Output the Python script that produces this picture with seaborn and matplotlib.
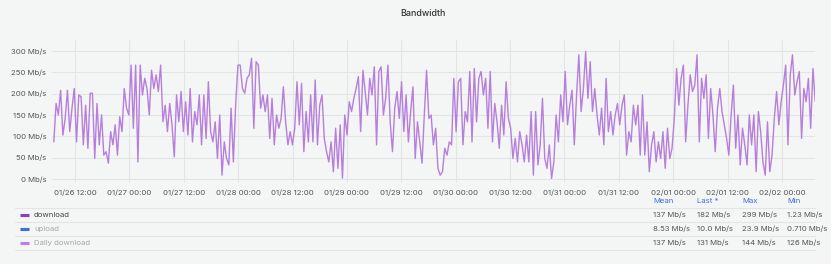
import matplotlib
matplotlib.use("Agg")
import matplotlib.pyplot as plt
import matplotlib.dates as mdates
from matplotlib.lines import Line2D
from matplotlib.ticker import FuncFormatter, MultipleLocator
import pandas as pd
import seaborn as sns

# ---- data (Mb/s), 30-minute-ish steps ----
seg_a = [87, 177, 150, 208, 103, 142, 208, 111, 166, 212, 87, 197, 193, 80, 173, 72, 201, 201, 48, 177,
         80, 150, 56, 64, 37, 111, 80, 127, 56, 146, 111, 212, 166, 150, 267, 119, 267, 40, 267, 197]
seg_b = [236, 212, 150, 255, 212, 244, 205, 267, 134, 173, 111, 177, 127, 52, 197, 134, 205, 111, 181, 103,
         212, 87, 158, 127, 197, 80, 197, 95, 228, 111, 87, 134, 48, 150, 9, 87, 48, 33, 166, 40, 173, 267]
seg_c = [267, 212, 201, 236, 244, 283, 119, 275, 267, 166, 197, 158, 197, 95, 189, 80, 150, 119, 142, 216,
         134, 80, 111, 80, 119, 228, 127, 224, 64, 158, 87, 197, 87, 232, 80, 173, 197, 95, 64, 40, 87, 17]
seg_d = [119, 25, 127, 2, 150, 103, 181, 158, 189, 212, 240, 111, 255, 205, 150, 236, 197, 263, 80, 252,
         263, 150, 189, 267, 134, 64, 166, 205, 142, 228, 111, 197, 87, 158, 216, 48, 134, 87, 37, 150, 255, 142]
seg_e = [150, 80, 119, 25, 9, 17, 72, 56, 87, 80, 236, 111, 228, 236, 80, 158, 134, 252, 87, 259,
         134, 236, 252, 197, 236, 119, 252, 87, 177, 134, 72, 173, 103, 228, 142, 119, 48, 95, 40, 111, 80, 40]
seg_f = [103, 40, 158, 9, 158, 33, 80, 189, 48, 25, 80, 1.23, 40, 150, 87, 197, 134, 252, 127, 173,
         208, 80, 197, 291, 158, 212, 299, 189, 275, 158, 212, 150, 103, 166, 80, 236, 111, 158, 103, 150, 177, 127]
seg_g = [173, 197, 56, 111, 87, 173, 127, 173, 56, 197, 56, 134, 17, 80, 111, 40, 87, 48, 111, 25,
         119, 48, 72, 142, 259, 173, 236, 267, 87, 173, 244, 205, 220, 291, 87, 236, 189, 244, 95, 212, 150, 64]
seg_h = [166, 212, 158, 127, 95, 56, 150, 220, 72, 150, 33, 119, 80, 33, 150, 80, 150, 17, 158, 111,
         40, 9, 134, 17, 56, 142, 205, 127, 181, 220, 267, 80, 244, 291, 197, 228, 252, 95, 212, 181,
         236, 119, 259, 182]
download = seg_a + seg_b + seg_c + seg_d + seg_e + seg_f + seg_g + seg_h

start_time = "2024-01-26 07:20"
end_time = "2024-02-02 07:20"

legend_names = ["download", "upload", "Daily download"]
legend_colors = ["#8e3fc0", "#3d6fd6", "#c07ee0"]
legend_text_colors = ["#444444", "#a8a8a8", "#a8a8a8"]
stat_headers = ["Mean", "Last *", "Max", "Min"]
stat_values = [["137 Mb/s", "182 Mb/s", "299 Mb/s", "1.23 Mb/s"],
               ["8.53 Mb/s", "10.0 Mb/s", "23.9 Mb/s", "0.710 Mb/s"],
               ["137 Mb/s", "131 Mb/s", "144 Mb/s", "126 Mb/s"]]
title = "Bandwidth"

times = pd.date_range(start_time, end_time, periods=len(download))
df = pd.DataFrame({"time": times, "download": download})

# ---- styling ----
sns.set_theme(style="white")
plt.rcParams["font.family"] = ["Inter", "DejaVu Sans"]
BG = "#f4f5f5"
W, H = 831, 264
fig = plt.figure(figsize=(W / 100, H / 100), dpi=100, facecolor=BG)
ax = fig.add_axes([52 / W, 1 - 183 / H, (815 - 52) / W, (183 - 40) / H], facecolor=BG)

sns.lineplot(data=df, x="time", y="download", ax=ax, color="#b67fdc", linewidth=1.0, legend=False)

ax.set_ylim(-9.4, 325.8)
ax.set_xlim(pd.Timestamp("2024-01-26 06:56"), pd.Timestamp("2024-02-02 07:17"))
ax.yaxis.set_major_locator(MultipleLocator(50))
ax.yaxis.set_major_formatter(FuncFormatter(lambda v, p: f"{int(v)} Mb/s"))
ax.xaxis.set_major_locator(mdates.HourLocator(byhour=[0, 12]))
ax.xaxis.set_major_formatter(mdates.DateFormatter("%m/%d %H:%M"))
ax.grid(True, color="#e3e4e4", linewidth=0.8)
ax.set_axisbelow(True)
for s in ax.spines.values():
    s.set_visible(False)
ax.tick_params(axis="both", length=0, labelsize=5.6, labelcolor="#555555")
ax.tick_params(axis="x", pad=5)
ax.tick_params(axis="y", pad=4)
ax.set_xlabel("")
ax.set_ylabel("")

fig.text(423 / W, 1 - 14 / H, title, ha="center", va="center", fontsize=6.4,
         color="#333333", fontweight="medium")

# ---- legend table ----
def fy(y):
    return 1 - y / H

for ysep in [208, 222, 236, 250]:
    fig.add_artist(Line2D([15 / W, 815 / W], [fy(ysep), fy(ysep)], color="#e3e4e4", linewidth=0.8))

col_x = [653, 697, 742, 787]
for cx, hdr in zip(col_x, stat_headers):
    fig.text(cx / W, fy(201), hdr, ha="left", va="center", fontsize=5.6, color="#3d71d9")

row_y = [215, 229, 243]
for ry, name, col, tcol, vals in zip(row_y, legend_names, legend_colors, legend_text_colors, stat_values):
    fig.add_artist(Line2D([20 / W, 29 / W], [fy(ry), fy(ry)], color=col, linewidth=2.2,
                          solid_capstyle="butt"))
    fig.text(34 / W, fy(ry), name, ha="left", va="center", fontsize=5.6, color=tcol)
    for cx, v in zip(col_x, vals):
        fig.text(cx / W, fy(ry), v, ha="left", va="center", fontsize=5.6, color="#555555")

fig.savefig("out.png", dpi=100, facecolor=BG)
